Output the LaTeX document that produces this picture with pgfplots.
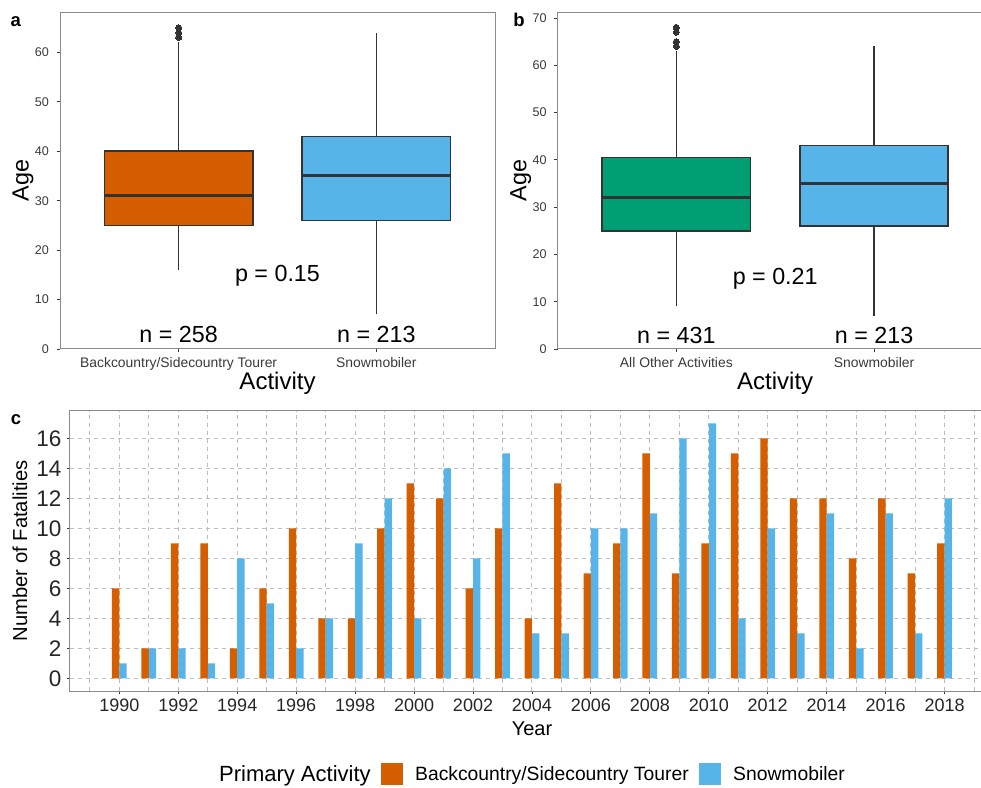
\documentclass[border=0pt]{standalone}
\usepackage{fontspec}
\setmainfont{Liberation Sans}
\usepackage{pgfplots}
\usepackage{pgfplotstable}
\pgfplotsset{compat=1.18}
\definecolor{vermil}{HTML}{D55E00}
\definecolor{skyb}{HTML}{56B4E9}
\definecolor{bgreen}{HTML}{009E73}
\definecolor{framec}{HTML}{8A8A8A}
\definecolor{gridc}{HTML}{BEBEBE}
\definecolor{boxc}{HTML}{333333}
\definecolor{tickc}{HTML}{3A3A3A}
\newcommand{\fs}[1]{\fontsize{#1}{#1}\selectfont}

\pgfplotstableread{
year bc sn
1990 6 1
1991 2 2
1992 9 2
1993 9 1
1994 2 8
1995 6 5
1996 10 2
1997 4 4
1998 4 9
1999 10 12
2000 13 4
2001 12 14
2002 6 8
2003 10 15
2004 4 3
2005 13 3
2006 7 10
2007 9 10
2008 15 11
2009 7 16
2010 9 17
2011 15 4
2012 16 10
2013 12 3
2014 12 11
2015 8 2
2016 12 11
2017 7 3
2018 9 12
}\fataltab

\pgfplotsset{
  common/.style={
    scale only axis, anchor=south west,
    /pgf/number format/assume math mode=true,
    tick align=outside, tick pos=left,
    axis line style={framec, line width=1pt},
    major tick style={tickc, line width=0.9pt},
    major tick length=3.3pt,
    ticklabel style={color=tickc},
  },
  boxax/.style={
    common,
    width=435pt, height=336.7pt,
    xmin=0.4, xmax=2.6, ymin=0,
    xtick={1,2},
    yticklabel style={font=\fs{12.6}, inner sep=0pt, xshift=-7.5pt, anchor=east},
    xticklabel style={font=\fs{13.9}, inner sep=0pt, yshift=-5.4pt, anchor=north},
    every axis x label/.style={at={(axis description cs:0.5,0)}, yshift=-34pt, anchor=center, font=\fs{24}},
    every axis y label/.style={at={(axis description cs:0,0.5)}, xshift=-37pt, rotate=90, anchor=center, font=\fs{23.4}},
  },
  wh/.style={boxc, line width=1.35pt, no marks},
  bxs/.style={draw=boxc, line width=1.5pt, line join=miter, no marks},
  med/.style={boxc, line width=2.9pt, no marks},
  outl/.style={only marks, mark=*, mark size=3pt, mark options={fill=boxc, draw=boxc, line width=0pt}},
}

\begin{document}
\begin{tikzpicture}
% ---------------- panel a
\begin{axis}[boxax, at={(60pt,438pt)}, ymax=68.1,
  ytick={0,10,...,60},
  xticklabels={Backcountry/Sidecountry Tourer, Snowmobiler},
  xlabel={Activity}, ylabel={Age}]
% Backcountry/Sidecountry Tourer
\addplot[wh] coordinates {(1,16)(1,25)};
\addplot[wh] coordinates {(1,40)(1,62)};
\addplot[bxs, fill=vermil] coordinates {(0.625,25)(1.375,25)(1.375,40)(0.625,40)} -- cycle;
\addplot[med] coordinates {(0.625,31)(1.375,31)};
\addplot[outl] coordinates {(1,63)(1,64)(1,65)};
% Snowmobiler
\addplot[wh] coordinates {(2,7)(2,26)};
\addplot[wh] coordinates {(2,43)(2,64)};
\addplot[bxs, fill=skyb] coordinates {(1.625,26)(2.375,26)(2.375,43)(1.625,43)} -- cycle;
\addplot[med] coordinates {(1.625,35)(2.375,35)};
\node[font=\fs{23.3}, inner sep=0pt] at (axis cs:1,3.03) {n = 258};
\node[font=\fs{23.3}, inner sep=0pt] at (axis cs:2,3.03) {n = 213};
\node[font=\fs{23.3}, inner sep=0pt] at (axis cs:1.5,14.9) {p = 0.15};
\end{axis}
% ---------------- panel b
\begin{axis}[boxax, at={(557.7pt,438pt)}, ymax=71.2,
  ytick={0,10,...,70},
  xticklabels={All Other Activities, Snowmobiler},
  xlabel={Activity}, ylabel={Age}]
% All Other Activities
\addplot[wh] coordinates {(1,9)(1,25)};
\addplot[wh] coordinates {(1,40.5)(1,63)};
\addplot[bxs, fill=bgreen] coordinates {(0.625,25)(1.375,25)(1.375,40.5)(0.625,40.5)} -- cycle;
\addplot[med] coordinates {(0.625,32)(1.375,32)};
\addplot[outl] coordinates {(1,64)(1,65)(1,67)(1,68)};
% Snowmobiler
\addplot[wh] coordinates {(2,7)(2,26)};
\addplot[wh] coordinates {(2,43)(2,64)};
\addplot[bxs, fill=skyb] coordinates {(1.625,26)(2.375,26)(2.375,43)(1.625,43)} -- cycle;
\addplot[med] coordinates {(1.625,35)(2.375,35)};
\node[font=\fs{23.3}, inner sep=0pt] at (axis cs:1,2.96) {n = 431};
\node[font=\fs{23.3}, inner sep=0pt] at (axis cs:2,2.96) {n = 213};
\node[font=\fs{23.3}, inner sep=0pt] at (axis cs:1.5,14.8) {p = 0.21};
\end{axis}
% ---------------- panel c
\begin{axis}[common, at={(70pt,96pt)}, width=923.9pt, height=280.3pt,
  xmin=1988.325, xmax=2019.675, ymin=-0.85, ymax=17.85,
  xtick={1990,1992,...,2018}, minor xtick={1989,1991,...,2019},
  ytick={0,2,...,16},
  minor tick length=0pt,
  ticklabel style={color=black!85},
  xmajorgrids, xminorgrids, ymajorgrids,
  major grid style={gridc, dash pattern=on 4pt off 4pt, line width=1pt},
  minor grid style={gridc, dash pattern=on 4pt off 4pt, line width=1pt},
  xticklabel style={font=\fs{18}, inner sep=0pt, yshift=-4pt, anchor=north, /pgf/number format/1000 sep={}},
  yticklabel style={font=\fs{22.5}, inner sep=0pt, xshift=-5pt, anchor=east},
  every axis x label/.style={at={(axis description cs:0.5,0)}, yshift=-38pt, anchor=center, font=\fs{20}},
  every axis y label/.style={at={(axis description cs:0,0.5)}, xshift=-50pt, rotate=90, anchor=center, font=\fs{20.2}},
  xlabel={Year}, ylabel={Number of Fatalities},
  ybar, bar width=7.37pt,
  legend columns=-1,
  legend style={at={(axis description cs:0.5,0)}, anchor=center, yshift=-83pt, xshift=-5pt, draw=none, fill=none,
    font=\fs{19.3},
    /tikz/every odd column/.append style={column sep=10pt},
    /tikz/every even column/.append style={column sep=8.5pt}},
  ]
\addlegendimage{empty legend}
\addlegendentry{\fs{22}Primary Activity\hspace{3pt}}
\addplot[ybar, fill=vermil, draw=none, bar shift=-3.685pt,
  legend image code/.code={\fill[vermil] (0pt,-11pt) rectangle (22pt,11pt);}]
  table[x=year, y=bc] {\fataltab};
\addlegendentry{Backcountry/Sidecountry Tourer}
\addplot[ybar, fill=skyb, draw=none, bar shift=3.685pt,
  legend image code/.code={\fill[skyb] (0pt,-11pt) rectangle (22pt,11pt);}]
  table[x=year, y=sn] {\fataltab};
\addlegendentry{Snowmobiler}
\end{axis}
% panel letters
\node[font=\bfseries\fs{18.5}, inner sep=0pt] at (15.7pt,765pt) {a};
\node[font=\bfseries\fs{18.5}, inner sep=0pt] at (519pt,767pt) {b};
\node[font=\bfseries\fs{18.5}, inner sep=0pt] at (16pt,367pt) {c};
\pgfresetboundingbox
\path[use as bounding box] (0pt,0pt) rectangle (981pt,787pt);
\end{tikzpicture}
\end{document}
